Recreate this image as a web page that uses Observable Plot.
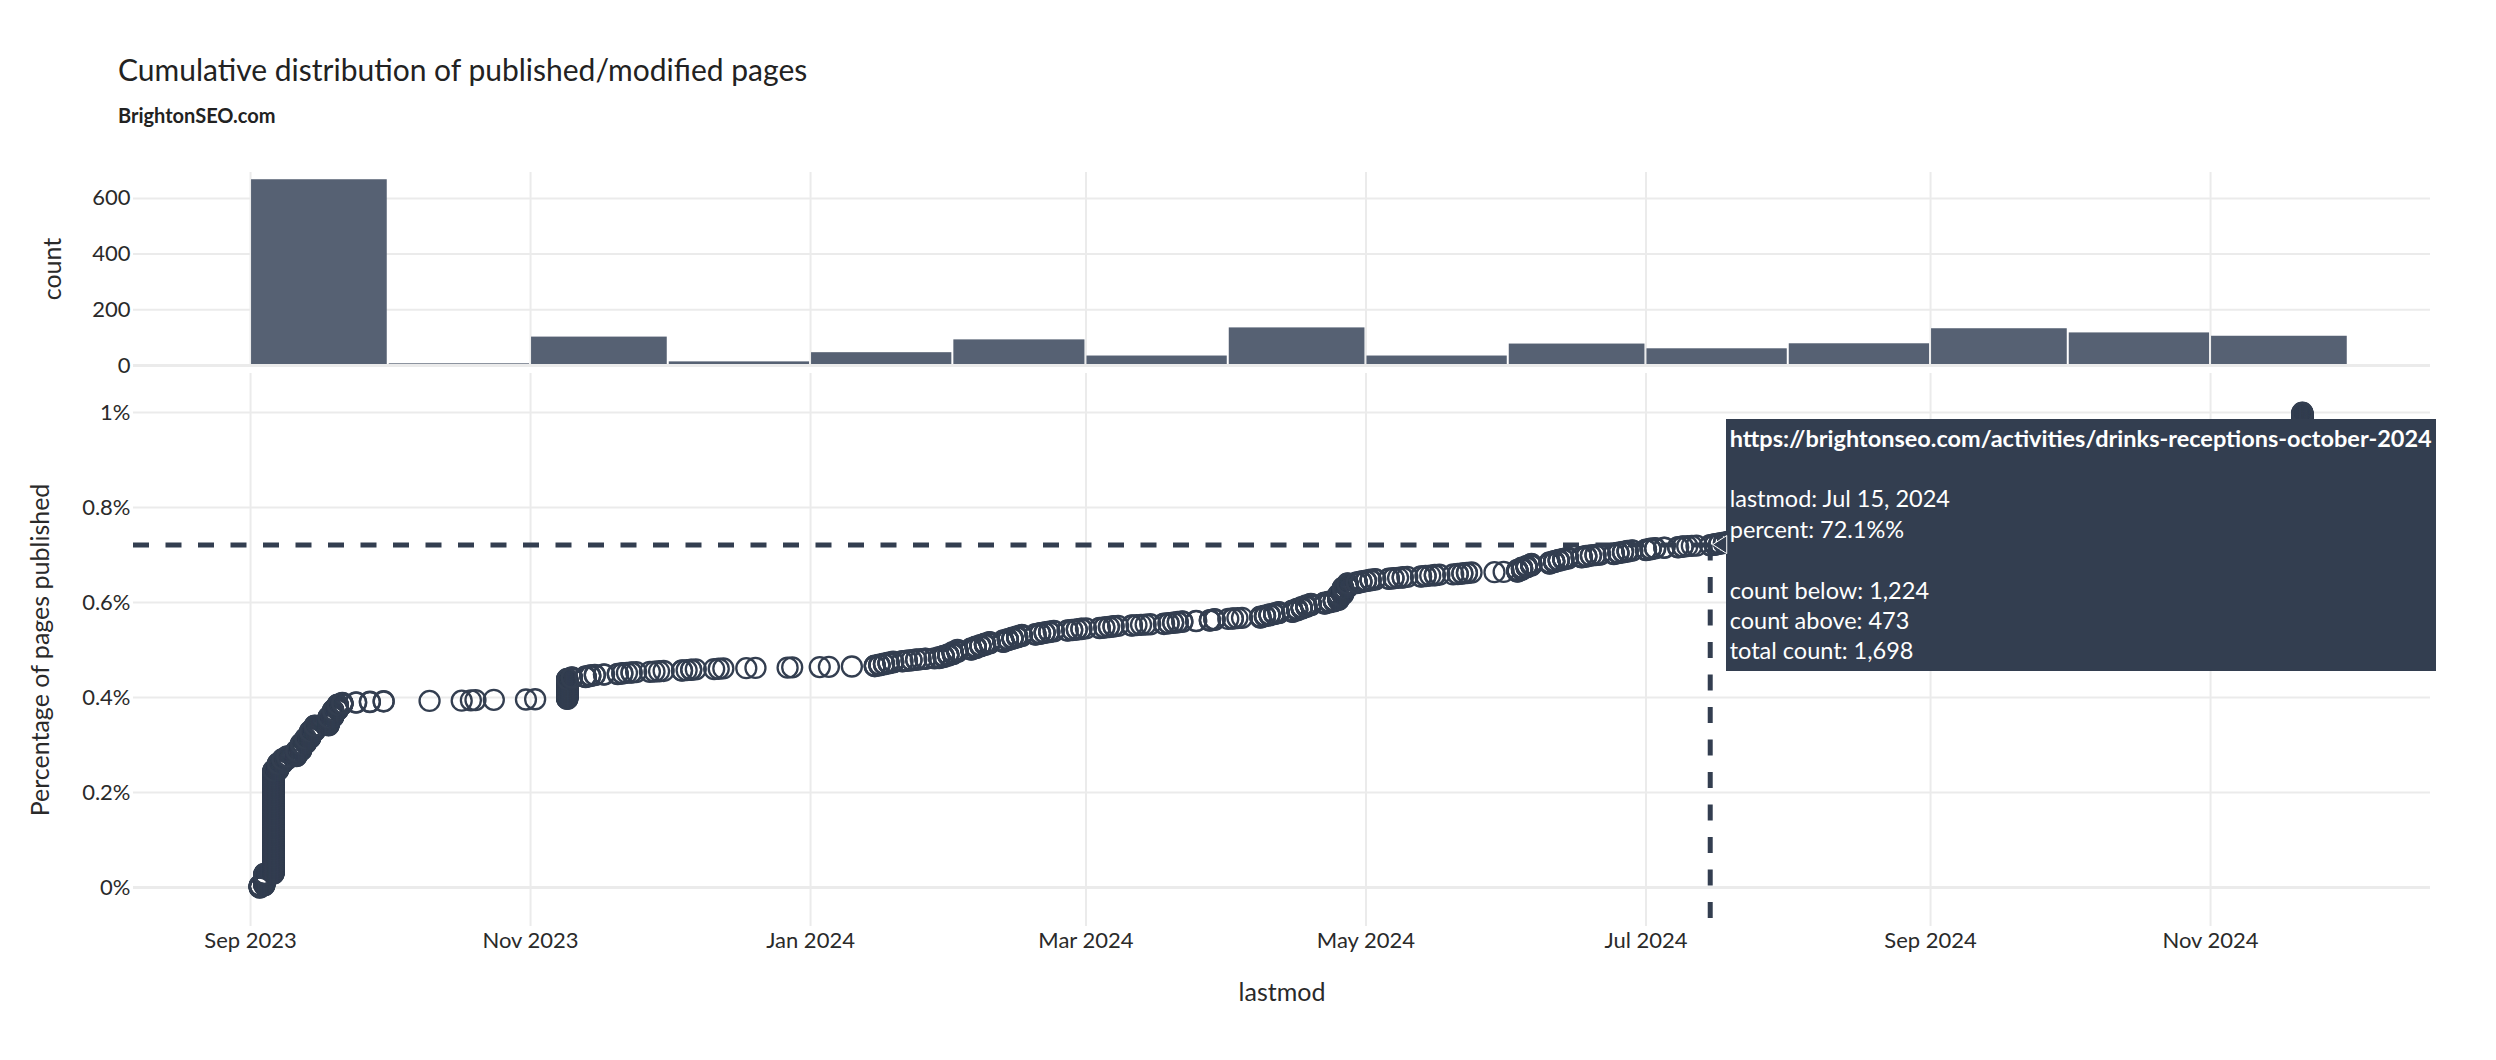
<!DOCTYPE html>
<html>
<head>
<meta charset="utf-8">
<script src="https://cdn.jsdelivr.net/npm/d3@7"></script>
<script src="https://cdn.jsdelivr.net/npm/@observablehq/plot@0.6"></script>
<style>
  html, body { margin: 0; padding: 0; background: #fff; }
  #wrap { position: relative; width: 2496px; height: 1060px; overflow: hidden; font-family: Lato, sans-serif; }
  #title { position: absolute; left: 118px; top: 54px; font-size: 30px; line-height: 30px; color: #222; white-space: nowrap; }
  #subtitle { position: absolute; left: 118px; top: 105px; font-size: 20px; line-height: 20px; font-weight: 700; color: #222; white-space: nowrap; }
  .panel { position: absolute; left: 0; }
  #tip { position: absolute; background: #333e50; color: #fff; font-size: 23.5px; line-height: 30.4px;
         padding: 4px 4px 5px 4px; white-space: pre; font-family: Lato, sans-serif; }
  #tip b { font-weight: 700; }
  #arrow { position: absolute; left: 0; top: 0; overflow: visible; }
</style>
</head>
<body>
<div id="wrap">
  <div id="title"></div>
  <div id="subtitle"></div>
</div>
<script>
// ---------------- data ----------------
const chartTitle = "Cumulative distribution of published/modified pages";
const chartSubtitle = "BrightonSEO.com";

// pages per lastmod day, grouped by month
const monthKeys = ["2023-09","2023-10","2023-11","2023-12","2024-01","2024-02","2024-03","2024-04",
                   "2024-05","2024-06","2024-07","2024-08","2024-09","2024-10","2024-11"];
const daysByMonth = [
  [3,4,6,7,8,9,11,12,13,14,15,18,19,20,21,24,27,30],
  [10,17,19,20,24,31],
  [2,9,10,13,14,15,17,20,21,22,23,24,27,28,29,30],
  [4,5,6,7,11,12,13,18,20,27,28],
  [3,5,10,15,16,17,18,19,21,22,23,24,25,26,28,29,30,31],
  [1,2,5,6,7,8,9,12,13,14,15,16,19,20,21,22,23,26,27,28,29],
  [1,4,5,6,7,8,11,12,13,14,15,18,19,20,21,22,25,28,29],
  [1,2,3,4,8,9,10,11,12,15,16,17,18,19,22,23,24,25,26,27,29,30],
  [1,2,3,6,7,8,9,10,13,14,15,16,17,20,21,22,23,24,29,31],
  [3,4,5,6,10,11,12,13,14,17,18,19,20,21,24,25,26,27,28],
  [1,2,3,5,8,9,10,11,12,15,16,17,18,19,22,23,24,25,26,29,30,31],
  [1,2,5,6,7,8,9,12,13,14,15,16,19,20,21,22,23,26,27,28,29,30],
  [2,3,4,5,6,9,10,11,12,13,16,17,18,19,20,23,24,25,26,27,30],
  [1,2,3,4,7,8,9,10,11,14,15,16,17,18,21,22,23,24,25,28,29,30,31],
  [1,4,5,6,7,8,11,12,13,14,15,18,19,20,21]
];
const countsByMonth = [
  [8,42,370,25,15,10,20,25,20,25,20,30,25,20,6,2,2,2],
  [1,1,1,1,1,1],
  [1,73,5,4,3,2,2,2,2,1,2,1,1,1,1,1],
  [2,1,2,1,1,1,1,1,1,1,1],
  [1,1,1,3,4,3,4,3,2,2,2,2,1,2,1,4,5,5],
  [8,8,6,6,5,6,5,6,5,5,5,5,3,3,3,3,2,2,2,2,2],
  [1,2,2,2,2,1,2,1,1,1,1,2,2,2,2,2,2,3,3],
  [1,2,1,1,4,4,4,4,4,6,6,6,6,6,4,4,5,20,25,15,4,3],
  [3,3,2,2,2,1,2,1,2,2,1,2,1,1,2,2,2,1,1,1],
  [7,8,7,7,5,5,4,4,4,3,3,2,2,2,3,3,3,3,2],
  [3,3,2,2,2,2,1,1,1,2,3,3,3,3,4,4,4,4,3,4,3,3],
  [4,3,4,4,3,4,3,4,4,3,4,3,4,3,4,3,3,4,4,4,3,3],
  [6,6,6,6,6,6,6,6,6,6,6,6,6,6,6,6,6,6,6,6,12],
  [6,5,5,5,5,5,5,5,5,5,5,5,5,5,5,5,5,5,5,5,5,5,6],
  [3,3,3,3,3,3,3,3,3,3,3,3,3,3,63]
];

// hovered page (tooltip)
const hoverUrl = "https://brightonseo.com/activities/drinks-receptions-october-2024";
const hoverCountBelow = 1224;

// axes
const xTickDates = ["2023-09-01","2023-11-01","2024-01-01","2024-03-01","2024-05-01","2024-07-01","2024-09-01","2024-11-01"];
const xDomainDates = ["2023-08-06T12:00:00Z","2024-12-18T22:00:00Z"];
const pctTicks = [0, 0.2, 0.4, 0.6, 0.8, 1];
const pctDomain = [-0.082, 1.082];
const countTicks = [0, 200, 400, 600];
const countDomain = [0, 693];

// ---------------- build ----------------
const dark = "#333e50";
const barColor = "#566173";
const gridColor = "#ebebeb";

const points = [];
monthKeys.forEach((m, i) => {
  daysByMonth[i].forEach((d, j) => {
    const date = new Date(`${m}-${String(d).padStart(2, "0")}T00:00:00Z`);
    for (let k = 0; k < countsByMonth[i][j]; k++) points.push({date});
  });
});
const total = points.length;
points.forEach((p, i) => { p.pct = i / total; });
const hovered = points[hoverCountBelow];

const xDomain = xDomainDates.map(s => new Date(s));
const xTicks = xTickDates.map(s => new Date(s + "T00:00:00Z"));
const W = 2496, ML = 133, MR = 2496 - 2430;

const baseStyle = {fontFamily: "Lato, sans-serif", fontSize: "22px", color: "#2a2a2a", background: "transparent", overflow: "visible"};

document.getElementById("title").textContent = chartTitle;
document.getElementById("subtitle").textContent = chartSubtitle;

function enlargeLabels(svg) {
  svg.querySelectorAll('g[aria-label="x-axis label"], g[aria-label="y-axis label"]').forEach(g => {
    g.setAttribute("font-size", "25");
    g.querySelectorAll("text").forEach(t => t.setAttribute("font-size", "25"));
  });
}

const histTop = 140;
const hist = Plot.plot({
  width: W, height: 229, marginTop: 32, marginBottom: 4, marginLeft: ML, marginRight: MR,
  style: baseStyle,
  x: {type: "utc", domain: xDomain, axis: null},
  y: {domain: countDomain, axis: null},
  marks: [
    Plot.gridX(xTicks, {stroke: gridColor, strokeOpacity: 1, strokeWidth: 2}),
    Plot.gridY(countTicks.filter(d => d !== 0), {stroke: gridColor, strokeOpacity: 1, strokeWidth: 2}),
    Plot.rectY(points, Plot.binX({y: "count"}, {x: "date", interval: d3.utcMonth, fill: barColor, insetLeft: 1, insetRight: 1})),
    Plot.ruleY([0], {stroke: gridColor, strokeWidth: 3}),
    Plot.axisY(countTicks, {tickSize: 0, tickPadding: 3, label: "count", labelAnchor: "center", labelArrow: "none", labelOffset: 90, fontSize: 22})
  ]
});
enlargeLabels(hist);
hist.classList.add("panel");
hist.style.top = histTop + "px";
document.getElementById("wrap").appendChild(hist);

const scTop = 340;
const dashStyle = {stroke: dark, strokeWidth: 5, strokeDasharray: "16,16.5"};
const scatter = Plot.plot({
  width: W, height: 720, marginTop: 33, marginBottom: 134, marginLeft: ML, marginRight: MR,
  style: baseStyle,
  x: {type: "utc", domain: xDomain},
  y: {domain: pctDomain},
  marks: [
    Plot.gridX(xTicks, {stroke: gridColor, strokeOpacity: 1, strokeWidth: 2}),
    Plot.gridY(pctTicks.filter(d => d !== 0), {stroke: gridColor, strokeOpacity: 1, strokeWidth: 2}),
    Plot.ruleY([0], {stroke: gridColor, strokeWidth: 3}),
    Plot.axisX(xTicks, {tickSize: 0, tickPadding: 6, tickFormat: d3.utcFormat("%b %Y"),
      label: "lastmod", labelAnchor: "center", labelArrow: "none", labelOffset: 74, fontSize: 22}),
    Plot.axisY(pctTicks, {tickSize: 0, tickPadding: 3, tickFormat: d => d3.format("~g")(d) + "%",
      label: "Percentage of pages published", labelAnchor: "center", labelArrow: "none", labelOffset: 102, fontSize: 22}),
    Plot.dot(points, {x: "date", y: "pct", r: 10, stroke: dark, strokeWidth: 2.3, fill: "none"}),
    Plot.ruleY([hovered], {y: "pct", x1: () => xDomain[0], x2: "date", ...dashStyle}),
    Plot.ruleX([hovered], {x: "date", y1: "pct", y2: () => pctDomain[0], ...dashStyle})
  ]
});
enlargeLabels(scatter);
scatter.classList.add("panel");
scatter.style.top = scTop + "px";
document.getElementById("wrap").appendChild(scatter);

// tooltip
const px = scatter.scale("x").apply(hovered.date);
const py = scatter.scale("y").apply(hovered.pct) + scTop;
const fmtDate = d3.utcFormat("%b %-d, %Y");
const fmtInt = d3.format(",");
const tip = document.createElement("div");
tip.id = "tip";
const bold = document.createElement("b");
bold.textContent = hoverUrl;
tip.appendChild(bold);
tip.appendChild(document.createTextNode(
  "\n\nlastmod: " + fmtDate(hovered.date) +
  "\npercent: " + d3.format(".1f")(hovered.pct * 100) + "%%" +
  "\n\ncount below: " + fmtInt(hoverCountBelow) +
  "\ncount above: " + fmtInt(total - hoverCountBelow - 1) +
  "\ntotal count: " + fmtInt(total)));
document.getElementById("wrap").appendChild(tip);
const boxLeft = px + 16;
tip.style.left = boxLeft + "px";
tip.style.top = (py - tip.offsetHeight / 2) + "px";

const svgNS = "http://www.w3.org/2000/svg";
const arrow = document.createElementNS(svgNS, "svg");
arrow.setAttribute("id", "arrow");
arrow.setAttribute("width", "1");
arrow.setAttribute("height", "1");
const poly = document.createElementNS(svgNS, "polygon");
poly.setAttribute("points", `${px + 3},${py} ${boxLeft + 1},${py - 9} ${boxLeft + 1},${py + 9}`);
poly.setAttribute("fill", dark);
poly.setAttribute("stroke", "#fff");
poly.setAttribute("stroke-width", "1");
arrow.appendChild(poly);
document.getElementById("wrap").appendChild(arrow);
</script>
</body>
</html>
